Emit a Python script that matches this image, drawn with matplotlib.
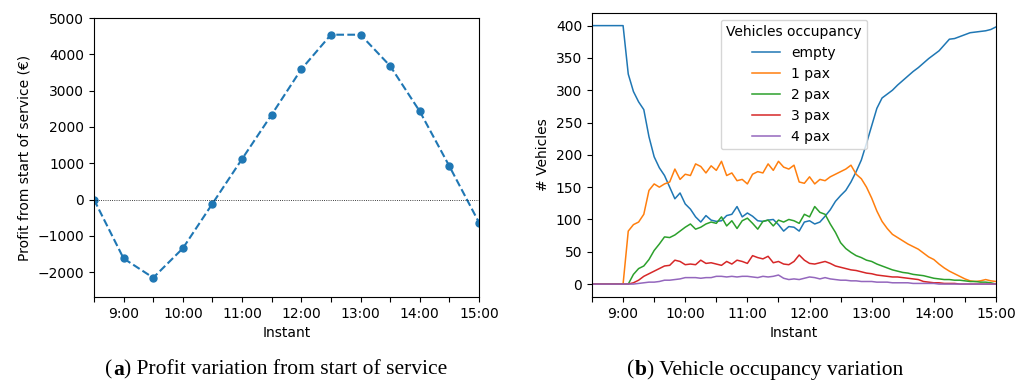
import numpy as np
import matplotlib
matplotlib.use("Agg")
import matplotlib.pyplot as plt

# ---- panel (a): profit every 30 min ----
profit_hours = [8.5, 9.0, 9.5, 10.0, 10.5, 11.0, 11.5, 12.0, 12.5, 13.0, 13.5, 14.0, 14.5, 15.0]
profit = [0, -1620, -2150, -1340, -110, 1120, 2340, 3590, 4540, 4540, 3680, 2430, 920, -630]

# ---- panel (b): vehicle occupancy every 5 min from 8:30 to 15:00 ----
occ_minutes = list(range(8 * 60 + 30, 15 * 60 + 1, 5))

empty = [400, 400, 400, 400, 400, 400,
         400, 325, 298, 282, 270, 228, 197, 180, 168, 150, 132, 141,
         124, 116, 104, 96, 106, 99, 97, 98, 106, 108, 120, 104,
         110, 105, 98, 97, 99, 100, 92, 82, 89, 88, 82, 96,
         98, 93, 96, 105, 115, 128, 137, 145, 158, 174, 192, 218,
         245, 272, 288, 294, 300, 308, 315, 322, 329, 335, 342, 349,
         355, 361, 370, 379, 380, 383, 386, 389, 390, 391, 392, 394,
         398]
pax1 = [0, 0, 0, 0, 0, 0,
        0, 82, 92, 96, 108, 145, 155, 150, 155, 158, 178, 162,
        170, 168, 186, 182, 172, 183, 176, 190, 168, 172, 160, 162,
        155, 170, 174, 172, 186, 176, 190, 181, 178, 184, 158, 156,
        166, 155, 162, 160, 166, 170, 174, 178, 184, 170, 163, 150,
        133, 113, 97, 86, 77, 72, 67, 62, 58, 54, 48, 42,
        38, 31, 25, 20, 16, 12, 8, 5, 4, 5, 7, 5,
        4]
pax2 = [0, 0, 0, 0, 0, 0,
        0, 0, 15, 24, 28, 38, 52, 62, 73, 72, 76, 82,
        88, 93, 85, 88, 93, 96, 94, 104, 90, 98, 86, 98,
        102, 94, 85, 97, 99, 90, 99, 96, 100, 98, 94, 108,
        104, 120, 111, 108, 93, 80, 64, 55, 49, 44, 41, 37,
        35, 31, 28, 25, 22, 20, 18, 17, 15, 14, 13, 11,
        9, 8, 7, 7, 6, 6, 5, 4, 4, 3, 3, 2,
        0]
pax3 = [0, 0, 0, 0, 0, 0,
        0, 0, 2, 6, 12, 16, 20, 24, 28, 29, 37, 35,
        30, 31, 30, 37, 32, 33, 31, 29, 35, 31, 37, 35,
        32, 44, 41, 39, 43, 33, 35, 31, 30, 35, 45, 37,
        32, 31, 33, 35, 32, 28, 26, 24, 22, 21, 19, 17,
        16, 14, 13, 12, 11, 11, 10, 9, 8, 7, 4, 3,
        2, 2, 1, 1, 1, 0, 0, 0, 0, 0, 0, 0,
        0]
pax4 = [0, 0, 0, 0, 0, 0,
        0, 0, 0, 1, 2, 3, 3, 4, 6, 6, 7, 8,
        10, 10, 10, 9, 10, 10, 12, 12, 11, 12, 11, 12,
        12, 11, 10, 12, 11, 12, 14, 9, 7, 8, 7, 9,
        11, 10, 8, 10, 8, 7, 6, 6, 5, 5, 4, 4,
        4, 3, 3, 3, 2, 2, 2, 2, 1, 1, 1, 1,
        1, 0, 0, 0, 0, 0, 0, 0, 0, 0, 0, 0,
        0]
occ_labels = ['empty', '1 pax', '2 pax', '3 pax', '4 pax']

captions = [('a', 'Profit variation from start of service'),
            ('b', 'Vehicle occupancy variation')]

tick_hours = np.arange(8.5, 15.01, 0.5)
tick_labels = ['%d:00' % h if h == int(h) else '' for h in tick_hours]

fig = plt.figure(figsize=(10.27, 3.85), dpi=100)

# (a)
ax1 = fig.add_axes([94 / 1027, 88 / 385, 385 / 1027, 279 / 385])
ax1.plot(profit_hours, profit, '--o', color='C0', lw=1.5, ms=5)
ax1.axhline(0, color='k', ls=':', lw=0.6)
ax1.set_xlim(8.5, 15)
ax1.set_ylim(-2680, 5000)
ax1.set_xticks(tick_hours)
ax1.set_xticklabels(tick_labels)
ax1.set_xlabel('Instant')
ax1.set_ylabel('Profit from start of service (€)')

# (b)
hrs = np.array(occ_minutes) / 60.0
ax2 = fig.add_axes([592 / 1027, 88 / 385, 404 / 1027, 284.3 / 385])
for series, lab in zip([empty, pax1, pax2, pax3, pax4], occ_labels):
    ax2.plot(hrs, series, lw=1.1, label=lab)
ax2.set_xlim(8.5, 15)
ax2.set_ylim(-20, 420)
ax2.set_xticks(tick_hours)
ax2.set_xticklabels(tick_labels)
ax2.set_xlabel('Instant')
ax2.set_ylabel('# Vehicles')
ax2.legend(title='Vehicles occupancy', loc='upper center')

# captions: "(x) text" with bold letter, pieces placed side by side
renderer = fig.canvas.get_renderer()
cap = dict(family='Liberation Serif', fontsize=15.5, va='center')
ycap = 1 - 370 / 385
for (letter, txt), x0 in zip(captions, [105, 627]):
    x = x0
    for piece, weight in [('(', 'normal'), (letter, 'bold'), (') ' + txt, 'normal')]:
        t = fig.text(x / 1027, ycap, piece, fontweight=weight, **cap)
        x = t.get_window_extent(renderer).x1 + 0.5

fig.savefig('out.png', dpi=100)
